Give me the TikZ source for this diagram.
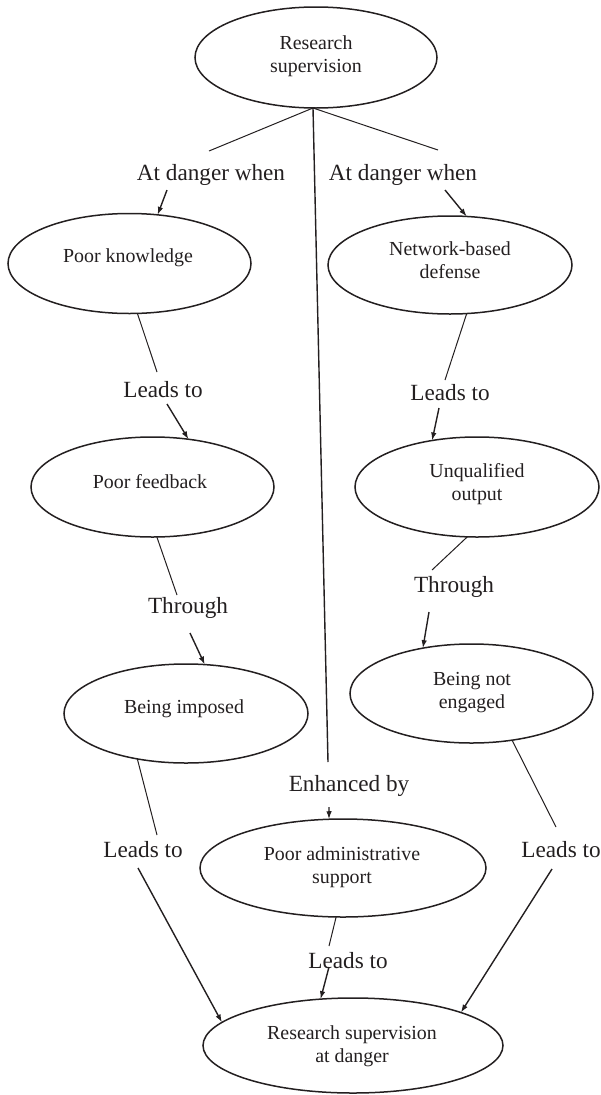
\documentclass[tikz,border=0pt]{standalone}
\usepackage{fontspec}
\setmainfont{Liberation Serif}
\usetikzlibrary{shapes.geometric,arrows.meta}
\definecolor{ink}{RGB}{35,31,32}
\begin{document}
\begin{tikzpicture}[x=1pt,y=-1pt,
  bub/.style={draw=ink,ellipse,line width=1.5pt,inner sep=0pt,outer sep=0pt},
  ntext/.style={anchor=base,align=center,text=ink,font=\fontsize{19.9}{23}\selectfont,inner sep=0pt},
  lab/.style={anchor=base,text=ink,font=\fontsize{23.2}{27}\selectfont,inner sep=0pt},
  ln/.style={draw=ink,line width=1pt},
  arr/.style={draw=ink,line width=1.4pt,-{Latex[length=8pt,width=5.5pt]}},
  vline/.style={draw=ink,line width=1.4pt}]
\useasboundingbox (0,0) rectangle (601,1095);

% ellipses
\node[bub,minimum width=242pt,minimum height=101pt] (rs) at (316,57.5) {};
\node[bub,minimum width=243pt,minimum height=100pt] (pk) at (129.5,263.5) {};
\node[bub,minimum width=244pt,minimum height=98pt] (nd) at (450,265) {};
\node[bub,minimum width=243pt,minimum height=100pt] (pf) at (152.5,487) {};
\node[bub,minimum width=244pt,minimum height=100pt] (uo) at (477,487) {};
\node[bub,minimum width=244pt,minimum height=99pt] (bi) at (186,713.5) {};
\node[bub,minimum width=243pt,minimum height=99pt] (bn) at (471.5,693.5) {};
\node[bub,minimum width=286pt,minimum height=98pt] (pa) at (343,868) {};
\node[bub,minimum width=300pt,minimum height=95pt] (rd) at (353,1045.5) {};

% ellipse texts (base = baseline of the last line)
\node[ntext] (rst) at (316,72) {Research\\supervision};
\node[ntext] (pkt) at (128,262) {Poor knowledge};
\node[ntext] (ndt) at (450,278) {Network-based\\defense};
\node[ntext] (pft) at (150,488) {Poor feedback};
\node[ntext] (uot) at (477,500) {Unqualified\\output};
\node[ntext] (bit) at (184,713) {Being imposed};
\node[ntext] (bnt) at (472,708) {Being not\\engaged};
\node[ntext] (pat) at (342,883) {Poor administrative\\support};
\node[ntext] (rdt) at (352,1062) {Research supervision\\at danger};

% connector labels
\node[lab] (adl) at (211,180) {At danger when};
\node[lab] (adr) at (403,180) {At danger when};
\node[lab] (lt1) at (163,397) {Leads to};
\node[lab] (lt2) at (450,400) {Leads to};
\node[lab] (th1) at (188,613) {Through};
\node[lab] (th2) at (454,592) {Through};
\node[lab] (eb) at (349,791) {Enhanced by};
\node[lab] (lt3) at (143,857) {Leads to};
\node[lab] (lt4) at (561,857) {Leads to};
\node[lab] (lt5) at (348,968) {Leads to};

% connectors from the top
\draw[ln] ([shift={(-3,0)}]rs.south) -- ([shift={(-2,-29)}]adl.base);
\draw[ln] ([shift={(-3,0)}]rs.south) -- ([shift={(35,-30)}]adr.base);
\draw[vline] ([shift={(-3,0)}]rs.south) -- ([shift={(-21,-29)}]eb.base);
\draw[arr] ([shift={(-44,10)}]adl.base) -- (pk.60.5);
\draw[arr] ([shift={(42,10)}]adr.base) -- (nd.71);

% left chain
\draw[ln] (pk.-81) -- ([shift={(-6,-25)}]lt1.base);
\draw[arr] ([shift={(4,7)}]lt1.base) -- (pf.53);
\draw[ln] (pf.-85) -- ([shift={(-11,-18)}]th1.base);
\draw[arr] ([shift={(2,20)}]th1.base) -- (bi.69);
\draw[ln] (bi.-137) -- ([shift={(14,-22)}]lt3.base);
\draw[arr] ([shift={(-5,11)}]lt3.base) -- (rd.170);

% right chain
\draw[ln] (nd.-71) -- ([shift={(-5,-20)}]lt2.base);
\draw[arr] ([shift={(-11,8)}]lt2.base) -- (uo.134);
\draw[ln] (uo.-101) -- ([shift={(-22,-22)}]th2.base);
\draw[arr] ([shift={(-25,20)}]th2.base) -- (bn.137);
\draw[ln] (bn.-49) -- ([shift={(-5,-30)}]lt4.base);
\draw[arr] ([shift={(-9,12)}]lt4.base) -- (rd.17);

% middle chain
\draw[arr] ([shift={(-20,16)}]eb.base) -- (pa.106);
\draw[ln] (pa.-98) -- ([shift={(-19,-22)}]lt5.base);
\draw[arr] ([shift={(-19,-1)}]lt5.base) -- (rd.125);
\end{tikzpicture}
\end{document}
